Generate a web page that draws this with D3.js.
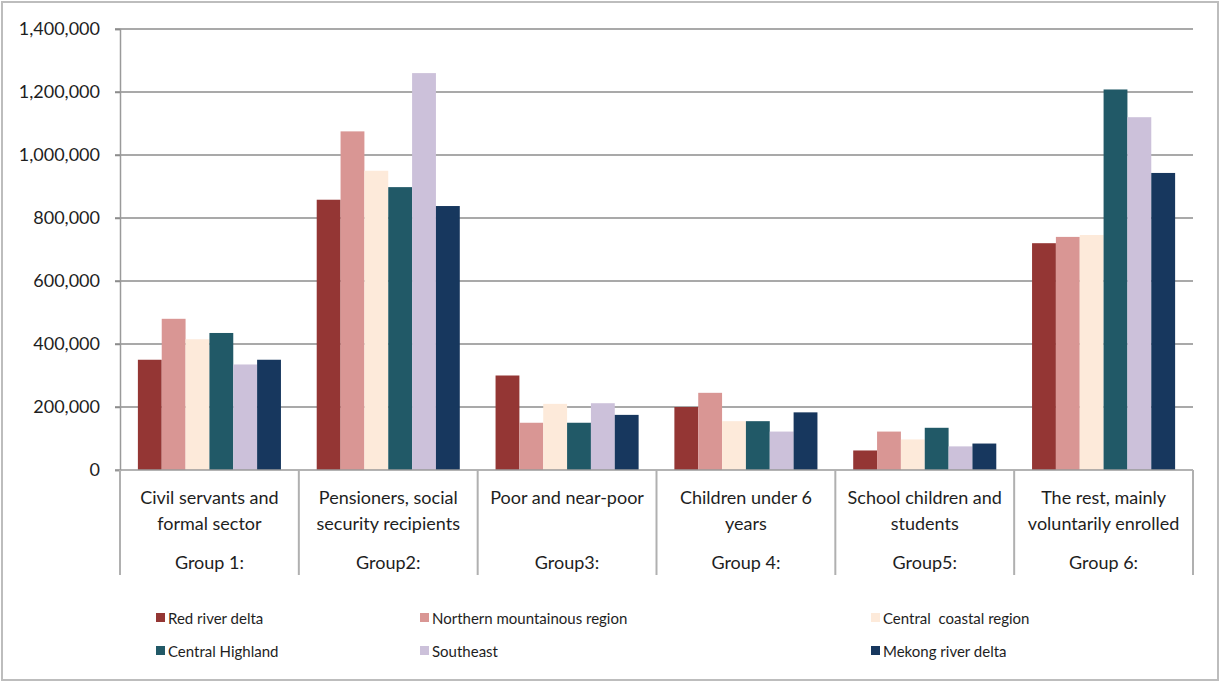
<!DOCTYPE html>
<html>
<head>
<meta charset="utf-8">
<script src="https://cdn.jsdelivr.net/npm/d3@7"></script>
<style>
  body { margin: 0; background: #fff; }
  svg { display: block; font-family: Lato, "Open Sans", sans-serif; }
</style>
</head>
<body>
<svg></svg>
<script>
const width = 1220;
const height = 682;

// categories: [description lines, group label]
const categories = ["Group 1:", "Group2:", "Group3:", "Group 4:", "Group5:", "Group 6:"];
const descriptions = [
    ["Civil servants and", "formal sector"],
    ["Pensioners, social", "security recipients"],
    ["Poor and near-poor"],
    ["Children under 6", "years"],
    ["School children and", "students"],
    ["The rest, mainly", "voluntarily enrolled"]
];
const regions = ["Red river delta", "Northern mountainous region", "Central  coastal region",
    "Central Highland", "Southeast", "Mekong river delta"];
const colors = ["#943634", "#d99694", "#fdeada", "#215967", "#ccc1da", "#17375e"];

// values per region, one per group
const redRiver   = [350000, 858000, 300000, 200000, 62000, 720000];
const northern   = [480000, 1075000, 150000, 245000, 122000, 740000];
const coastal    = [415000, 950000, 210000, 155000, 97000, 746000];
const highland   = [435000, 898000, 150000, 155000, 134000, 1208000];
const southeast  = [335000, 1260000, 212000, 122000, 75000, 1120000];
const mekong     = [350000, 838000, 175000, 183000, 84000, 943000];
const series = [redRiver, northern, coastal, highland, southeast, mekong];

const yTicks = [0, 200000, 400000, 600000, 800000, 1000000, 1200000, 1400000];

const svg = d3.select("svg")
    .attr("width", width)
    .attr("height", height);

// outer frame
svg.append("rect")
    .attr("x", 2).attr("y", 2)
    .attr("width", width - 4).attr("height", height - 4)
    .attr("fill", "#fff")
    .attr("stroke", "#bdbdbd")
    .attr("stroke-width", 2);

const margin = {left: 120, right: 27, top: 29, bottom: 212};
const plotW = width - margin.left - margin.right;
const plotBottom = height - margin.bottom;

const x0 = d3.scaleBand()
    .domain(d3.range(categories.length))
    .range([margin.left, margin.left + plotW])
    .paddingInner(0.2)
    .paddingOuter(0.1);

const x1 = d3.scaleBand()
    .domain(d3.range(regions.length))
    .range([0, x0.bandwidth()]);

const y = d3.scaleLinear()
    .domain([0, 1400000])
    .range([plotBottom, margin.top]);

// gridlines
svg.append("g")
    .selectAll("line")
    .data(yTicks.slice(1))
    .enter().append("line")
    .attr("x1", margin.left - 5)
    .attr("x2", margin.left + plotW)
    .attr("y1", d => y(d))
    .attr("y2", d => y(d))
    .attr("stroke", "#8c8c8c")
    .attr("stroke-width", 1.5);

// y axis
const yAxis = svg.append("g")
    .attr("transform", `translate(${margin.left},0)`)
    .call(d3.axisLeft(y).tickValues(yTicks).tickSize(5).tickPadding(15)
        .tickFormat(d3.format(",")));
yAxis.select(".domain").attr("stroke", "#9a9a9a").attr("stroke-width", 1.5);
yAxis.selectAll(".tick line").attr("stroke", "#8c8c8c").attr("stroke-width", 1.5);
yAxis.selectAll("text")
    .attr("font-size", 18)
    .attr("fill", "#1e1e1e")
    .attr("font-family", "Lato, 'Open Sans', sans-serif");

// bars
const groups = svg.append("g")
    .selectAll("g")
    .data(categories)
    .enter().append("g")
    .attr("transform", (d, i) => `translate(${x0(i)},0)`);

groups.selectAll("rect")
    .data((d, i) => series.map((s, j) => ({region: j, value: s[i]})))
    .enter().append("rect")
    .attr("x", d => x1(d.region))
    .attr("width", x1.bandwidth())
    .attr("y", d => y(d.value))
    .attr("height", d => plotBottom - y(d.value))
    .attr("fill", d => colors[d.region]);

// x axis line
svg.append("line")
    .attr("x1", margin.left - 5)
    .attr("x2", margin.left + plotW)
    .attr("y1", plotBottom)
    .attr("y2", plotBottom)
    .attr("stroke", "#9a9a9a")
    .attr("stroke-width", 1.5);

// category separators
const step = x0.step();
const bounds = d3.range(categories.length + 1).map(i => margin.left + i * step);
svg.append("g")
    .selectAll("line")
    .data(bounds)
    .enter().append("line")
    .attr("x1", d => d).attr("x2", d => d)
    .attr("y1", plotBottom)
    .attr("y2", plotBottom + 105)
    .attr("stroke", "#b0b0b0")
    .attr("stroke-width", 2);

// category labels
const labels = svg.append("g")
    .attr("font-size", 18)
    .attr("fill", "#1e1e1e")
    .attr("text-anchor", "middle");

descriptions.forEach((lines, i) => {
    const cx = margin.left + (i + 0.5) * step;
    lines.forEach((t, k) => {
        labels.append("text")
            .attr("x", cx)
            .attr("y", plotBottom + 34 + k * 26)
            .text(t);
    });
    labels.append("text")
        .attr("x", cx)
        .attr("y", plotBottom + 99)
        .text(categories[i]);
});

// legend
const legendX = [156, 420, 871];
const legendY = [618, 651];
const legend = svg.append("g")
    .selectAll("g")
    .data(regions)
    .enter().append("g")
    .attr("transform", (d, i) => `translate(${legendX[i % 3]},${legendY[Math.floor(i / 3)]})`);

legend.append("rect")
    .attr("x", 0).attr("y", -5)
    .attr("width", 9).attr("height", 9)
    .attr("fill", (d, i) => colors[i]);

legend.append("text")
    .attr("x", 12)
    .attr("y", 6)
    .attr("font-size", 15)
    .attr("fill", "#1e1e1e")
    .style("white-space", "pre")
    .text(d => d);
</script>
</body>
</html>
